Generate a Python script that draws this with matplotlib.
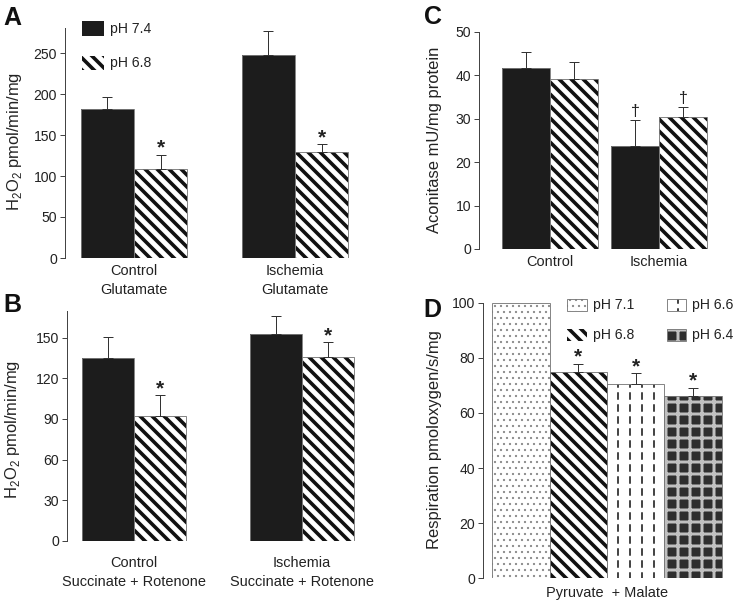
import numpy as np
import matplotlib
matplotlib.use('Agg')
import matplotlib.pyplot as plt
from matplotlib.patches import Rectangle

# ---------------- data ----------------
groups_A = ['Control\nGlutamate', 'Ischemia\nGlutamate']
A_ph74 = [182, 248]
A_ph74_err = [14, 29]
A_ph68 = [109, 129]
A_ph68_err = [17, 10]

groups_B = ['Control\nSuccinate + Rotenone', 'Ischemia\nSuccinate + Rotenone']
B_ph74 = [135, 152.5]
B_ph74_err = [15.5, 13.3]
B_ph68 = [92.4, 136]
B_ph68_err = [15.1, 10.6]

groups_C = ['Control', 'Ischemia']
C_ph74 = [41.7, 23.8]
C_ph74_err = [3.7, 5.9]
C_ph68 = [39.2, 30.4]
C_ph68_err = [3.9, 2.3]

D_labels = ['pH 7.1', 'pH 6.8', 'pH 6.6', 'pH 6.4']
D_values = [100, 75, 70.4, 66.1]
D_err = [0, 2.8, 4.0, 3.1]
D_marks = ['', '*', '*', '*']
D_group = 'Pyruvate  + Malate'

A_ticks = [0, 50, 100, 150, 200, 250]
B_ticks = [0, 30, 60, 90, 120, 150]
C_ticks = [0, 10, 20, 30, 40, 50]
D_ticks = [0, 20, 40, 60, 80, 100]

# ---------------- styling ----------------
W, H, DPI = 734, 602, 72
plt.rcParams['font.family'] = ['Liberation Sans', 'DejaVu Sans']
plt.rcParams['text.color'] = '#222222'
plt.rcParams['axes.labelcolor'] = '#222222'
plt.rcParams['mathtext.fontset'] = 'custom'
plt.rcParams['mathtext.rm'] = 'Liberation Sans'

fig = plt.figure(figsize=(W / DPI, H / DPI), dpi=DPI)
fig.patch.set_facecolor('white')

OUTLINE = '#7a7a7a'
STYLES = {
    'black': [dict(facecolor='#1c1c1c', hatch=None, hc='#1c1c1c', hlw=1)],
    'stripe': [dict(facecolor='white', hatch='\\\\', hc='#111111', hlw=3.6)],
    'dots': [dict(facecolor='white', hatch='..', hc='#8a8a8a', hlw=1.0)],
    'dash': [dict(facecolor='white', hatch='|', hc='#333333', hlw=1.8),
             dict(facecolor='none', hatch='-', hc='white', hlw=4.5)],
    'check': [dict(facecolor='#2e2e2e', hatch='+', hc='#c0c0c0', hlw=3.0)],
}


def set_hlw(p, lw):
    if hasattr(p, 'set_hatch_linewidth'):
        p.set_hatch_linewidth(lw)


def styled_bar(ax, x, h, w, style, outline=True):
    for layer in STYLES[style]:
        with plt.rc_context({'hatch.linewidth': layer['hlw']}):
            bars = ax.bar(x, h, w, color=layer['facecolor'], hatch=layer['hatch'],
                          edgecolor=layer['hc'], linewidth=0, zorder=2)
        for p in bars:
            set_hlw(p, layer['hlw'])
    if outline:
        ax.bar(x, h, w, fill=False, edgecolor=OUTLINE, linewidth=0.9, zorder=3)


def legend_box(xpx, ypx, wpx, hpx, style, label, fs=14):
    for layer in STYLES[style]:
        with plt.rc_context({'hatch.linewidth': layer['hlw']}):
            r = Rectangle((xpx / W, 1 - (ypx + hpx) / H), wpx / W, hpx / H,
                          transform=fig.transFigure, facecolor=layer['facecolor'],
                          hatch=layer['hatch'], edgecolor=layer['hc'], linewidth=0)
        set_hlw(r, layer['hlw'])
        fig.add_artist(r)
    if style != 'black' and style != 'stripe':
        fig.add_artist(Rectangle((xpx / W, 1 - (ypx + hpx) / H), wpx / W, hpx / H,
                                 transform=fig.transFigure, fill=False,
                                 edgecolor=OUTLINE, linewidth=0.9))
    fig.text((xpx + wpx + 6) / W, 1 - (ypx + hpx / 2) / H, label, fontsize=fs,
             ha='left', va='center')


def px_axes(left, top, right, bottom):
    return fig.add_axes([left / W, 1 - bottom / H, (right - left) / W, (bottom - top) / H])


def errbars(ax, x, h, e):
    x = np.asarray(x, float); h = np.asarray(h, float); e = np.asarray(e, float)
    m = e > 0
    ax.errorbar(x[m], h[m], yerr=[np.zeros(m.sum()), e[m]], fmt='none',
                ecolor='#333333', elinewidth=1.0, capsize=5, capthick=1.0, zorder=4)


def marks(ax, x, h, e, sym, fs=21, dy=-3, weight='bold'):
    for xi, hi, ei in zip(x, h, e):
        if sym:
            ax.annotate(sym, (xi, hi + ei), xytext=(0, dy), textcoords='offset points',
                        ha='center', va='bottom', fontsize=fs, color='#222222',
                        fontweight=weight)


def style_axes(ax, ticks, ylim, xlim, ylabel, label_x_px, label_y_px, xpad):
    ax.set_ylim(*ylim)
    ax.set_xlim(*xlim)
    ax.set_yticks(ticks)
    for s in ['top', 'right', 'bottom']:
        ax.spines[s].set_visible(False)
    ax.spines['left'].set_color('#444444')
    ax.spines['left'].set_linewidth(1.0)
    ax.tick_params(axis='y', direction='out', length=5, width=1, colors='#444444',
                   labelcolor='#222222', labelsize=14, pad=3)
    ax.tick_params(axis='x', length=0, labelsize=14.5, pad=xpad, labelcolor='#222222')
    for t in ax.get_xticklabels():
        t.set_linespacing(1.45)
    ax.set_facecolor('none')
    ax.set_ylabel(ylabel, fontsize=16.5)
    ax.yaxis.label.set_va('center')
    ax.yaxis.label.set_ha('center')
    ax.yaxis.set_label_coords(label_x_px / W, 1 - label_y_px / H, transform=fig.transFigure)


ylab_h2o2 = 'H$_2$O$_2$ pmol/min/mg'

# ---------------- panel A ----------------
axA = px_axes(65, 258 - 280 * 0.82, 360, 258)
xA = np.arange(len(groups_A), dtype=float)
wA = 0.33
styled_bar(axA, xA - wA / 2, A_ph74, wA, 'black')
styled_bar(axA, xA + wA / 2, A_ph68, wA, 'stripe')
errbars(axA, xA - wA / 2, A_ph74, A_ph74_err)
errbars(axA, xA + wA / 2, A_ph68, A_ph68_err)
marks(axA, xA + wA / 2, A_ph68, A_ph68_err, '*')
axA.set_xticks(xA, groups_A)
style_axes(axA, A_ticks, (0, 280), (-69 / 161, 226 / 161), ylab_h2o2, 15, 142, 6)
legend_box(82, 21, 22, 15, 'black', 'pH 7.4')
legend_box(82, 56, 22, 14, 'stripe', 'pH 6.8')

# ---------------- panel B ----------------
axB = px_axes(67, 540.7 - 170 * 1.353, 360, 540.7)
xB = np.arange(len(groups_B), dtype=float)
wB = 0.31
styled_bar(axB, xB - wB / 2, B_ph74, wB, 'black')
styled_bar(axB, xB + wB / 2, B_ph68, wB, 'stripe')
errbars(axB, xB - wB / 2, B_ph74, B_ph74_err)
errbars(axB, xB + wB / 2, B_ph68, B_ph68_err)
marks(axB, xB + wB / 2, B_ph68, B_ph68_err, '*')
axB.set_xticks(xB, groups_B)
style_axes(axB, B_ticks, (0, 170), (-67 / 168, 226 / 168), ylab_h2o2, 13, 430, 15)

# ---------------- panel C ----------------
axC = px_axes(479, 31.7, 725, 249)
xC = np.arange(len(groups_C), dtype=float)
wC = 0.44
styled_bar(axC, xC - wC / 2, C_ph74, wC, 'black')
styled_bar(axC, xC + wC / 2, C_ph68, wC, 'stripe')
errbars(axC, xC - wC / 2, C_ph74, C_ph74_err)
errbars(axC, xC + wC / 2, C_ph68, C_ph68_err)
marks(axC, [xC[1] - wC / 2, xC[1] + wC / 2], [C_ph74[1], C_ph68[1]],
      [C_ph74_err[1], C_ph68_err[1]], '\u2020', fs=16, dy=1, weight='normal')
axC.set_xticks(xC, groups_C)
style_axes(axC, C_ticks, (0, 50), (-71 / 109, 175 / 109),
           'Aconitase mU/mg protein', 435, 140, 6)

# ---------------- panel D ----------------
axD = px_axes(483, 302.7, 730, 578.3)
xD = np.arange(len(D_labels), dtype=float)
dstyles = ['dots', 'stripe', 'dash', 'check']
for xi, v, st in zip(xD, D_values, dstyles):
    styled_bar(axD, [xi], [v], 1.0, st)
errbars(axD, xD, D_values, D_err)
for xi, v, e, mk in zip(xD, D_values, D_err, D_marks):
    marks(axD, [xi], [v], [e], mk)
axD.set_xticks([xD.mean()], [D_group])
style_axes(axD, D_ticks, (0, 100), (-38 / 57.3, 209 / 57.3),
           'Respiration pmoloxygen/s/mg', 435, 440, 8)
legend_box(567, 299, 20, 12, 'dots', D_labels[0])
legend_box(567, 329, 20, 12, 'stripe', D_labels[1])
legend_box(667, 299, 19, 12, 'dash', D_labels[2])
legend_box(667, 329, 19, 12, 'check', D_labels[3])

# ---------------- panel letters ----------------
for lab, xp, yp in [('A', 3, 6), ('B', 3, 293), ('C', 424, 5), ('D', 423, 298)]:
    fig.text(xp / W, 1 - yp / H, lab, fontsize=25, fontweight='bold',
             ha='left', va='top', color='#111111')

fig.savefig('out.png', dpi=DPI, facecolor='white')
